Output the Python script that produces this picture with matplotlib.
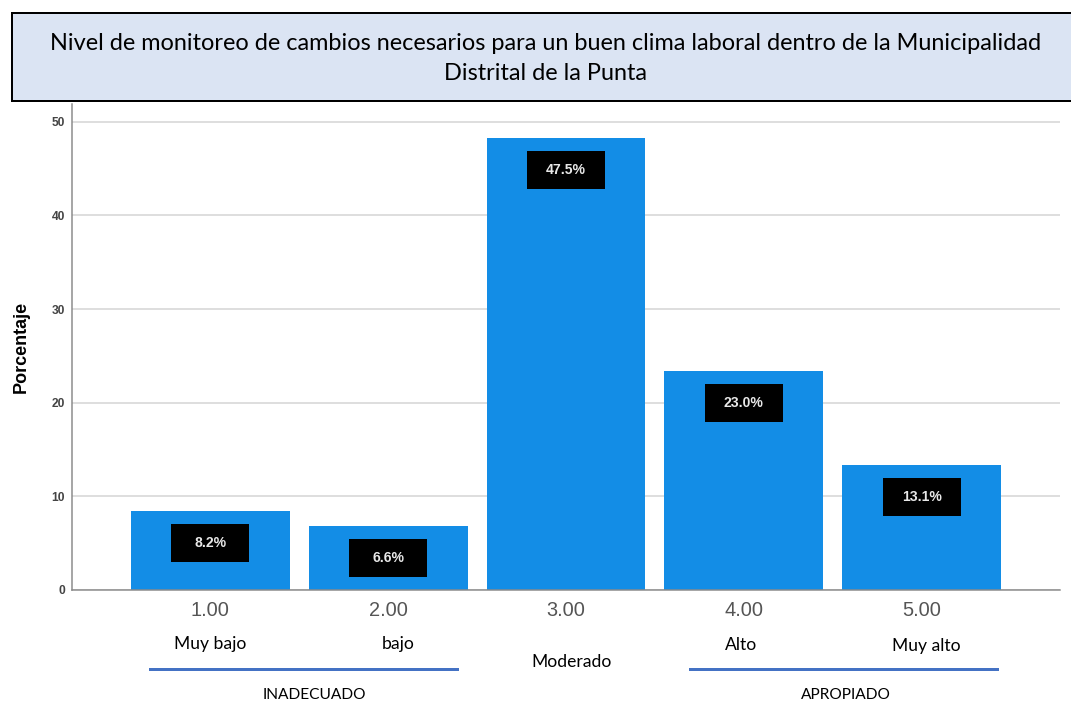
import matplotlib
matplotlib.use("Agg")
import matplotlib.pyplot as plt
from matplotlib.patches import Rectangle
from matplotlib.offsetbox import DrawingArea, AnnotationBbox
from matplotlib.text import Text

# data
categories = [1, 2, 3, 4, 5]
tick_labels = ["1.00", "2.00", "3.00", "4.00", "5.00"]
percentages = [8.4, 6.8, 48.3, 23.4, 13.4]
value_labels = ["8.2%", "6.6%", "47.5%", "23.0%", "13.1%"]
level_names = ["Muy bajo", "bajo", "Moderado", "Alto", "Muy alto"]
group_names = ["INADECUADO", "APROPIADO"]
title_lines = ["Nivel de monitoreo de cambios necesarios para un buen clima laboral dentro de la Municipalidad",
               "Distrital de la Punta"]

DPI = 72
fig = plt.figure(figsize=(1071 / DPI, 704 / DPI), dpi=DPI)
ax = fig.add_axes([72 / 1071, 1 - 590 / 704, (1060 - 72) / 1071, (590 - 104) / 704])

bar_color = "#138de6"
ax.bar(categories, percentages, width=0.893, color=bar_color, zorder=2)
ax.set_xlim(0.222, 5.778)
ax.set_ylim(0, 51.9)
ax.set_yticks([0, 10, 20, 30, 40, 50])
ax.yaxis.grid(True, color="#d4d4d4", linewidth=1.5, zorder=0)
ax.set_xticks(categories)
ax.set_xticklabels(tick_labels, fontsize=20, color="#555555", family="Liberation Sans")
ax.tick_params(axis="x", length=0, pad=11)
ax.tick_params(axis="y", length=0, pad=7, labelsize=12, labelcolor="#444444")
for lbl in ax.get_yticklabels():
    lbl.set_family("Liberation Sans")
    lbl.set_fontweight("bold")
for s in ["top", "right"]:
    ax.spines[s].set_visible(False)
for s in ["left", "bottom"]:
    ax.spines[s].set_color("#8a8a8a")
    ax.spines[s].set_linewidth(1.5)
ax.set_ylabel("Porcentaje", fontsize=18, fontweight="bold", family="Liberation Sans", labelpad=22)

# black value boxes
for x, h, lab in zip(categories, percentages, value_labels):
    da = DrawingArea(78, 38, 0, 0)
    da.add_artist(Rectangle((0, 0), 78, 38, facecolor="black", edgecolor="none"))
    da.add_artist(Text(39, 19, lab, ha="center", va="center", color="#e8e8e8",
                       fontsize=14, fontweight="bold", family="Liberation Sans"))
    ab = AnnotationBbox(da, (x, h), xybox=(0, -32), xycoords="data",
                        boxcoords="offset points", frameon=False,
                        box_alignment=(0.5, 0.5), pad=0, zorder=3)
    ax.add_artist(ab)

# title box
fig.patches.append(Rectangle((12 / 1071, 1 - 101 / 704), 1.1, 88 / 704,
                             transform=fig.transFigure, facecolor="#dbe4f3",
                             edgecolor="black", linewidth=2, clip_on=False, zorder=5))
for ty, line in zip([43, 73], title_lines):
    fig.text(546 / 1071, 1 - ty / 704, line, ha="center", va="center", fontsize=23.5,
             family="Lato", zorder=6)

# category labels below axis
name_y = [644, 644, 662, 645, 646]
name_x = [210, 398, 572, 741, 926]
for nx, ny, name in zip(name_x, name_y, level_names):
    fig.text(nx / 1071, 1 - ny / 704, name, ha="center", va="center", fontsize=17.5, family="Lato")

# group lines and labels
for x0, x1, gx, gname in [(150, 457, 314, group_names[0]), (690, 997, 846, group_names[1])]:
    fig.add_artist(plt.Line2D([x0 / 1071, x1 / 1071], [1 - 669 / 704] * 2,
                              transform=fig.transFigure, color="#4472c4", linewidth=3))
    fig.text(gx / 1071, 1 - 695 / 704, gname, ha="center", va="center", fontsize=15.5, family="Lato")

fig.savefig("out.png", dpi=DPI)
